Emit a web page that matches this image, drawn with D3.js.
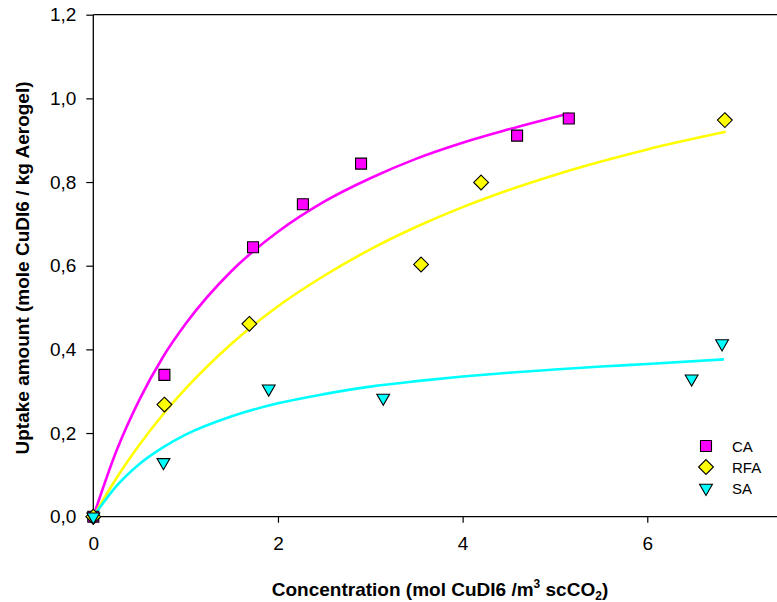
<!DOCTYPE html>
<html><head><meta charset="utf-8">
<script src="https://cdn.jsdelivr.net/npm/d3@7"></script>
<style>body{margin:0;background:#fff}svg{display:block}</style>
</head><body>
<svg id="c" width="777" height="602"></svg>
<script>
// Data
const caX = [0, 0.77, 1.73, 2.27, 2.9, 4.59, 5.15];
const caY = [0, 0.339, 0.644, 0.747, 0.844, 0.911, 0.952];
const rfaX = [0, 0.77, 1.69, 3.55, 4.2, 6.84];
const rfaY = [0, 0.268, 0.461, 0.603, 0.799, 0.948];
const saX = [0, 0.76, 1.9, 3.14, 6.48, 6.81];
const saY = [0, 0.13, 0.306, 0.284, 0.33, 0.414];
// Fitted curves
const caFitX = [0, 0.25, 0.5, 0.75, 1, 1.5, 2, 2.5, 3, 3.5, 4, 4.5, 5.15];
const caFitY = [0, 0.157, 0.280, 0.380, 0.461, 0.588, 0.681, 0.753, 0.809, 0.856, 0.894, 0.926, 0.964];
const rfaFitX = [0, 0.25, 0.5, 0.75, 1, 1.5, 2, 2.5, 3, 3.5, 4, 4.5, 5, 5.5, 6, 6.85];
const rfaFitY = [0, 0.092, 0.172, 0.243, 0.306, 0.414, 0.503, 0.576, 0.639, 0.693, 0.740, 0.781, 0.817, 0.849, 0.878, 0.920];
const saFitX = [0, 0.25, 0.5, 0.75, 1, 1.5, 2, 2.5, 3, 3.5, 4, 4.5, 5, 5.5, 6, 6.83];
const saFitY = [0, 0.073, 0.126, 0.165, 0.196, 0.240, 0.271, 0.293, 0.311, 0.324, 0.335, 0.344, 0.352, 0.359, 0.365, 0.376];
const xTicks = [0, 2, 4, 6];
const yTicks = [0, 0.2, 0.4, 0.6, 0.8, 1.0, 1.2];
const seriesNames = ["CA", "RFA", "SA"];
const seriesColors = ["#ff00ff", "#ffff00", "#00ffff"];

const svg = d3.select("#c");
const L = 93.3, R = 777 + 0.5, T = 14.7, B = 516.7;
const x = d3.scaleLinear().domain([0, (R - L) / 92.33]).range([L, R]);
const y = d3.scaleLinear().domain([0, 1.2]).range([B, T]);
const font = "Arial, 'Liberation Sans', sans-serif";

// frame top
svg.append("line").attr("x1", L).attr("x2", 777).attr("y1", T).attr("y2", T)
  .attr("stroke", "#000").attr("stroke-width", 1.3);

const fmt = d => d3.format(".1f")(d).replace(".", ",");
const yAxis = svg.append("g").attr("transform", `translate(${L},0)`)
  .call(d3.axisLeft(y).tickValues(yTicks).tickSize(7).tickPadding(10).tickFormat(fmt));
const xAxis = svg.append("g").attr("transform", `translate(0,${B})`)
  .call(d3.axisBottom(x).tickValues(xTicks).tickSize(6).tickPadding(14).tickFormat(d3.format("d")));
[yAxis, xAxis].forEach(g => {
  g.select(".domain").attr("stroke", "#000").attr("stroke-width", 1.3);
  g.selectAll(".tick line").attr("stroke", "#000").attr("stroke-width", 1.2);
  g.selectAll("text").attr("font-family", font).attr("font-size", 19).attr("fill", "#000");
});
xAxis.select(".domain").attr("d", `M${L},0H777`);
yAxis.select(".domain").attr("d", `M0,${T}V${B}`);

// curves
const line = d3.line().x(d => x(d[0])).y(d => y(d[1])).curve(d3.curveMonotoneX);
const fits = [[caFitX, caFitY], [rfaFitX, rfaFitY], [saFitX, saFitY]];
fits.forEach((f, i) => {
  svg.append("path").datum(f[0].map((v, j) => [v, f[1][j]]))
    .attr("d", line).attr("fill", "none").attr("stroke", seriesColors[i]).attr("stroke-width", 2.6);
});

// markers
const shapes = [
  d3.symbol().type(d3.symbolSquare).size(121),
  d3.symbol().type(d3.symbolDiamond2).size(140),
  d3.symbol().type(d3.symbolTriangle2).size(118)
];
const pts = [[caX, caY], [rfaX, rfaY], [saX, saY]];
function marker(g, i, cx, cy) {
  const p = g.append("path").attr("d", shapes[i]()).attr("fill", seriesColors[i])
    .attr("stroke", "#000").attr("stroke-width", 1.1);
  if (i === 2) p.attr("transform", `translate(${cx},${cy}) rotate(180)`);
  else p.attr("transform", `translate(${cx},${cy})`);
}
const mg = svg.append("g");
pts.forEach((p, i) => {
  p[0].forEach((v, j) => marker(mg, i, x(v), y(p[1][j])));
});

// legend
const legY = [446, 467, 488];
seriesNames.forEach((n, i) => {
  marker(svg, i, 706, legY[i]);
  svg.append("text").attr("x", 732).attr("y", legY[i] + 5.5).text(n)
    .attr("font-family", font).attr("font-size", 15).attr("fill", "#000");
});

// axis titles
const fs = 19, sub = 12;
const xt = svg.append("text").attr("x", 440).attr("y", 596).attr("text-anchor", "middle")
  .attr("font-family", font).attr("font-size", fs).attr("font-weight", "bold").attr("fill", "#000");
xt.append("tspan").text("Concentration (mol CuDI6 /m");
xt.append("tspan").text("3").attr("font-size", sub).attr("dy", -8);
xt.append("tspan").text(" scCO").attr("font-size", fs).attr("dy", 8);
xt.append("tspan").text("2").attr("font-size", sub).attr("dy", 4);
xt.append("tspan").text(")").attr("font-size", fs).attr("dy", -4);

svg.append("text").attr("transform", "translate(29,268) rotate(-90)").attr("text-anchor", "middle")
  .attr("font-family", font).attr("font-size", fs).attr("font-weight", "bold").attr("fill", "#000")
  .text("Uptake amount (mole CuDI6 / kg Aerogel)");
</script>
</body></html>
